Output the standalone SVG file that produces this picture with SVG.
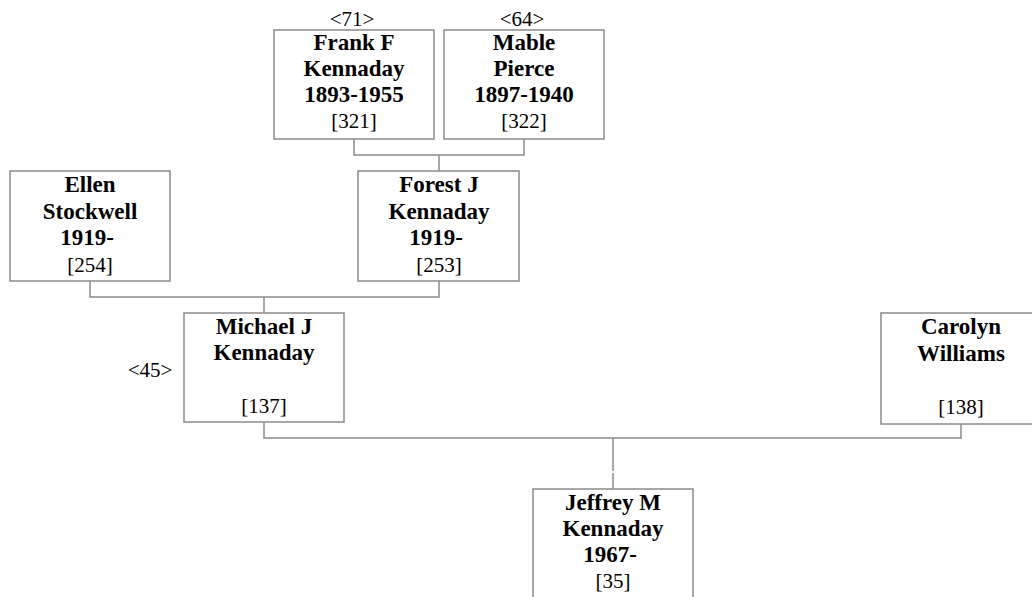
<svg xmlns="http://www.w3.org/2000/svg" width="1032" height="597" viewBox="0 0 1032 597">
<style>
.box{fill:#fff;stroke:#8c8c8c;stroke-width:1.5}
.ln{fill:none;stroke:#8c8c8c;stroke-width:1.5}
text{font-family:"Liberation Serif","Times New Roman",serif;fill:#000;text-anchor:middle}
.b{font-weight:bold;font-size:23px}
.r{font-size:21px}
</style>
<rect width="1032" height="597" fill="#fff"/>
<g id="connectors">
<polyline class="ln" points="354,139 354,155 524,155 524,139"/>
<line class="ln" x1="439" y1="155" x2="439" y2="171"/>
<polyline class="ln" points="90,281 90,297 439,297 439,281"/>
<line class="ln" x1="264" y1="297" x2="264" y2="313"/>
<polyline class="ln" points="264,422 264,438 961,438 961,424"/>
<line class="ln" x1="613" y1="438" x2="613" y2="471"/>
<line class="ln" x1="613" y1="473" x2="613" y2="489"/>
</g>
<g id="frank">
<rect class="box" x="274" y="30" width="160" height="109"/>
<text class="r" x="352" y="26">&lt;71&gt;</text>
<text class="b" x="354" y="50">Frank F</text>
<text class="b" x="354" y="76">Kennaday</text>
<text class="b" x="354" y="102">1893-1955</text>
<text class="r" x="354" y="128">[321]</text>
</g>
<g id="mable">
<rect class="box" x="444" y="30" width="160" height="109"/>
<text class="r" x="522" y="26">&lt;64&gt;</text>
<text class="b" x="524" y="50">Mable</text>
<text class="b" x="524" y="76">Pierce</text>
<text class="b" x="524" y="102">1897-1940</text>
<text class="r" x="524" y="128">[322]</text>
</g>
<g id="ellen">
<rect class="box" x="10" y="171" width="160" height="110"/>
<text class="b" x="90" y="192">Ellen</text>
<text class="b" x="90" y="219">Stockwell</text>
<text class="b" x="87" y="245">1919-</text>
<text class="r" x="90" y="272">[254]</text>
</g>
<g id="forest">
<rect class="box" x="358" y="171" width="161" height="110"/>
<text class="b" x="439" y="192">Forest J</text>
<text class="b" x="439" y="219">Kennaday</text>
<text class="b" x="436" y="245">1919-</text>
<text class="r" x="439" y="272">[253]</text>
</g>
<g id="michael">
<rect class="box" x="184" y="313" width="160" height="109"/>
<text class="r" x="150" y="377">&lt;45&gt;</text>
<text class="b" x="264" y="334">Michael J</text>
<text class="b" x="264" y="360">Kennaday</text>
<text class="r" x="264" y="413">[137]</text>
</g>
<g id="carolyn">
<rect class="box" x="881" y="313" width="161" height="111"/>
<text class="b" x="961" y="334">Carolyn</text>
<text class="b" x="961" y="361">Williams</text>
<text class="r" x="961" y="414">[138]</text>
</g>
<g id="jeffrey">
<rect class="box" x="533" y="489" width="160" height="130"/>
<text class="b" x="613" y="510">Jeffrey M</text>
<text class="b" x="613" y="536">Kennaday</text>
<text class="b" x="610" y="562">1967-</text>
<text class="r" x="613" y="588">[35]</text>
</g>
</svg>
